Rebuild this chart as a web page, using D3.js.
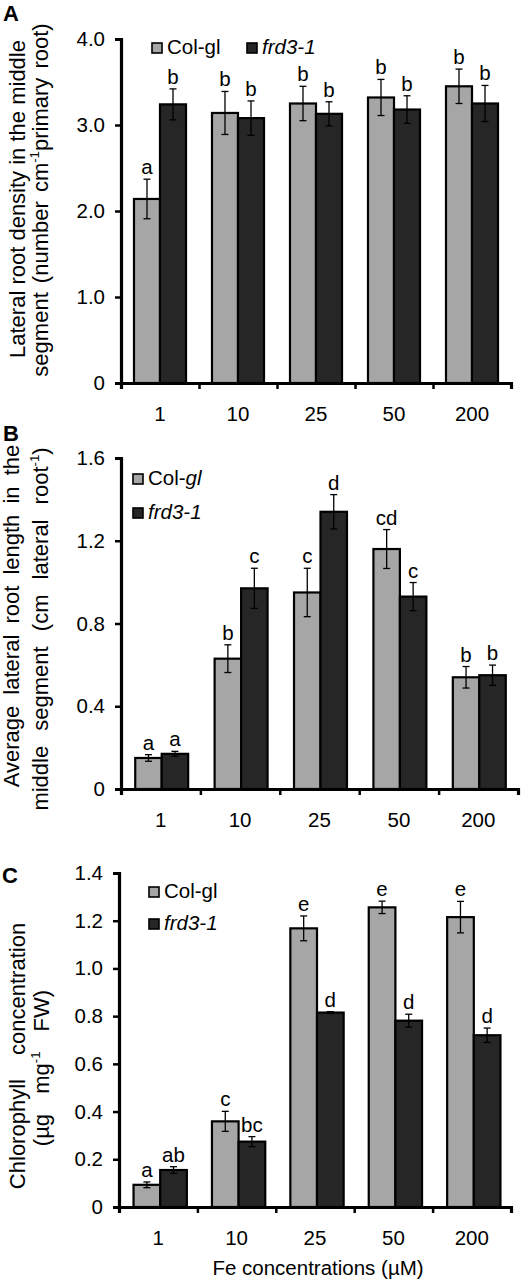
<!DOCTYPE html>
<html>
<head>
<meta charset="utf-8">
<script src="https://cdn.jsdelivr.net/npm/d3@7"></script>
<style>
  html, body { margin: 0; padding: 0; background: #fff; }
  svg { display: block; }
  text { font-family: "Liberation Sans", Arial, sans-serif; fill: #000; }
</style>
</head>
<body>
<svg id="chart" width="531" height="1283"></svg>
<script>
// ---------- data ----------
const categories = ["1", "10", "25", "50", "200"];
const seriesNames = ["Col-gl", "frd3-1"];

// Panel A: lateral root density
const colA = [2.14, 3.14, 3.25, 3.32, 3.45];
const frdA = [3.24, 3.08, 3.13, 3.18, 3.25];
const errColA = [0.23, 0.25, 0.20, 0.21, 0.20];
const errFrdA = [0.18, 0.20, 0.14, 0.16, 0.21];
const lettersColA = ["a", "b", "b", "b", "b"];
const lettersFrdA = ["b", "b", "b", "b", "b"];
const ticksA = [0, 1, 2, 3, 4];
const tickLabelsA = ["0", "1.0", "2.0", "3.0", "4.0"];

// Panel B: average lateral root length
const colB = [0.15, 0.63, 0.95, 1.16, 0.54];
const frdB = [0.17, 0.97, 1.34, 0.93, 0.55];
const errColB = [0.016, 0.067, 0.117, 0.094, 0.052];
const errFrdB = [0.012, 0.097, 0.083, 0.068, 0.049];
const lettersColB = ["a", "b", "c", "cd", "b"];
const lettersFrdB = ["a", "c", "d", "c", "b"];
const ticksB = [0, 0.4, 0.8, 1.2, 1.6];
const tickLabelsB = ["0", "0.4", "0.8", "1.2", "1.6"];

// Panel C: chlorophyll concentration
const colC = [0.093, 0.359, 1.168, 1.256, 1.215];
const frdC = [0.155, 0.274, 0.815, 0.781, 0.720];
const errColC = [0.012, 0.042, 0.052, 0.026, 0.066];
const errFrdC = [0.014, 0.021, 0.004, 0.027, 0.030];
const lettersColC = ["a", "c", "e", "e", "e"];
const lettersFrdC = ["ab", "bc", "d", "d", "d"];
const ticksC = [0, 0.2, 0.4, 0.6, 0.8, 1.0, 1.2, 1.4];
const tickLabelsC = ["0", "0.2", "0.4", "0.6", "0.8", "1.0", "1.2", "1.4"];

const xTitle = "Fe concentrations (µM)";

// ---------- styles ----------
const fills = ["#a6a6a6", "#262626"];
const FONT = 20.5;

const svg = d3.select("#chart");

function drawPanel(cfg) {
  const g = svg.append("g");
  const y = d3.scaleLinear().domain([0, cfg.yMax]).range([cfg.yZero, cfg.yTop]);
  const x = d3.scaleBand().domain(categories).range([cfg.x0, cfg.x1])
    .paddingInner(cfg.pad).paddingOuter(cfg.pad / 2);
  const xs = d3.scaleBand().domain(seriesNames).range([0, x.bandwidth()]);

  const series = [
    { name: seriesNames[0], vals: cfg.col, errs: cfg.errCol, letters: cfg.lettersCol },
    { name: seriesNames[1], vals: cfg.frd, errs: cfg.errFrd, letters: cfg.lettersFrd }
  ];

  series.forEach((s, si) => {
    const sg = g.append("g");
    const recs = categories.map((c, i) => ({ c, v: s.vals[i], e: s.errs[i], l: s.letters[i] }));
    sg.selectAll("rect").data(recs).join("rect")
      .attr("x", d => x(d.c) + xs(s.name) + cfg.shift)
      .attr("y", d => y(d.v))
      .attr("width", xs.bandwidth())
      .attr("height", d => y(0) - y(d.v))
      .attr("fill", fills[si])
      .attr("stroke", "#000")
      .attr("stroke-width", 2.2);
    const cx = d => x(d.c) + xs(s.name) + xs.bandwidth() / 2 + cfg.shift;
    sg.selectAll("line.eb").data(recs).join("line").attr("class", "eb")
      .attr("x1", cx).attr("x2", cx)
      .attr("y1", d => y(d.v - d.e)).attr("y2", d => y(d.v + d.e))
      .attr("stroke", "#000").attr("stroke-width", 1.3);
    sg.selectAll("line.ct").data(recs).join("line").attr("class", "ct")
      .attr("x1", d => cx(d) - 3.5).attr("x2", d => cx(d) + 3.5)
      .attr("y1", d => y(d.v + d.e)).attr("y2", d => y(d.v + d.e))
      .attr("stroke", "#000").attr("stroke-width", 1.3);
    sg.selectAll("line.cb").data(recs).join("line").attr("class", "cb")
      .attr("x1", d => cx(d) - 3.5).attr("x2", d => cx(d) + 3.5)
      .attr("y1", d => y(d.v - d.e)).attr("y2", d => y(d.v - d.e))
      .attr("stroke", "#000").attr("stroke-width", 1.3);
    sg.selectAll("text.lt").data(recs).join("text").attr("class", "lt")
      .attr("x", cx)
      .attr("y", d => y(d.v + d.e) - 5)
      .attr("text-anchor", "middle")
      .attr("font-size", FONT)
      .text(d => d.l);
  });

  // y axis
  const yAxis = d3.axisLeft(y).tickValues(cfg.ticks)
    .tickFormat((d, i) => cfg.tickLabels[i]).tickSizeOuter(0).tickSize(6).tickPadding(10);
  const ya = g.append("g").attr("transform", `translate(${cfg.x0},0)`).call(yAxis);
  ya.select(".domain").attr("stroke-width", 3.2).attr("stroke", "#000");
  ya.selectAll(".tick line").attr("stroke-width", 2.5).attr("stroke", "#000");
  ya.selectAll(".tick text").attr("font-size", FONT)
    .attr("font-family", '"Liberation Sans", Arial, sans-serif').attr("fill", "#000");

  // x axis: ticks at band boundaries
  const xb = d3.scaleLinear().domain([0, categories.length]).range([cfg.x0, cfg.x1]);
  const xAxis = d3.axisBottom(xb).tickValues(d3.range(categories.length + 1))
    .tickFormat("").tickSizeOuter(0).tickSize(6);
  const xa = g.append("g").attr("transform", `translate(0,${cfg.yZero})`).call(xAxis);
  xa.select(".domain").attr("stroke-width", 3.2).attr("stroke", "#000");
  xa.selectAll(".tick line").attr("stroke-width", 2.5).attr("stroke", "#000");
  // category labels
  g.selectAll("text.cat").data(categories).join("text").attr("class", "cat")
    .attr("x", d => (xb(categories.indexOf(d)) + xb(categories.indexOf(d) + 1)) / 2)
    .attr("y", cfg.yZero + 38)
    .attr("text-anchor", "middle")
    .attr("font-size", FONT)
    .text(d => d);

  // panel letter
  g.append("text").attr("x", cfg.letterX).attr("y", cfg.letterY)
    .attr("font-size", 22).attr("font-weight", "bold").text(cfg.letter);

  // y titles
  cfg.titles.forEach(t => {
    const tx = g.append("text")
      .attr("transform", `translate(${t.x},${t.cy}) rotate(-90)`)
      .attr("text-anchor", "middle")
      .attr("font-size", t.size)
      .style("word-spacing", t.ws + "px");
    t.parts.forEach(p => {
      const ts = tx.append("tspan").text(p.t);
      if (p.sup) ts.attr("font-size", t.size * 0.6).attr("dy", -9);
      if (p.after) ts.attr("dy", 9);
      if (p.it) ts.attr("font-style", "italic");
    });
  });

  // legend
  cfg.legend.forEach((L, li) => {
    g.append("rect").attr("x", L.x).attr("y", L.y).attr("width", 10).attr("height", 10)
      .attr("fill", fills[li]).attr("stroke", "#000").attr("stroke-width", 1.6);
    const tt = g.append("text").attr("x", L.x + 15).attr("y", L.y + 11).attr("font-size", FONT);
    L.parts.forEach(p => {
      const ts = tt.append("tspan").text(p.t);
      if (p.it) ts.attr("font-style", "italic");
    });
  });
}

drawPanel({
  col: colA, frd: frdA, errCol: errColA, errFrd: errFrdA,
  lettersCol: lettersColA, lettersFrd: lettersFrdA,
  ticks: ticksA, tickLabels: tickLabelsA,
  yMax: 4, yZero: 383, yTop: 39, x0: 121, x1: 511, pad: 0.333, shift: 0,
  letter: "A", letterX: 3, letterY: 21,
  titles: [
    { x: 25, cy: 199, size: 22, ws: 0, parts: [{ t: "Lateral root density in the middle" }] },
    { x: 48, cy: 200, size: 22, ws: 3, parts: [
      { t: "segment (number cm" }, { t: "-1", sup: true }, { t: "primary root)", after: true }] }
  ],
  legend: [
    { x: 152, y: 43, parts: [{ t: "Col-gl" }] },
    { x: 247, y: 43, parts: [{ t: "frd3-1", it: true }] }
  ]
});

drawPanel({
  col: colB, frd: frdB, errCol: errColB, errFrd: errFrdB,
  lettersCol: lettersColB, lettersFrd: lettersFrdB,
  ticks: ticksB, tickLabels: tickLabelsB,
  yMax: 1.6, yZero: 789, yTop: 458, x0: 121, x1: 518, pad: 0.333, shift: 1,
  letter: "B", letterX: 3, letterY: 441,
  titles: [
    { x: 19, cy: 616, size: 22, ws: 5, parts: [{ t: "Average lateral root length in the" }] },
    { x: 48, cy: 629, size: 22, ws: 9, parts: [
      { t: "middle segment (cm lateral root" }, { t: "-1", sup: true }, { t: ")", after: true }] }
  ],
  legend: [
    { x: 133, y: 474, parts: [{ t: "Col-" }, { t: "gl", it: true }] },
    { x: 133, y: 508, parts: [{ t: "frd3-1", it: true }] }
  ]
});

drawPanel({
  col: colC, frd: frdC, errCol: errColC, errFrd: errFrdC,
  lettersCol: lettersColC, lettersFrd: lettersFrdC,
  ticks: ticksC, tickLabels: tickLabelsC,
  yMax: 1.4, yZero: 1207, yTop: 873, x0: 119, x1: 511, pad: 0.32, shift: 2,
  letter: "C", letterX: 2, letterY: 883,
  titles: [
    { x: 25, cy: 1056, size: 22, ws: 18, parts: [{ t: "Chlorophyll concentration" }] },
    { x: 49, cy: 1068, size: 22, ws: 14, parts: [
      { t: "(µg mg" }, { t: "-1", sup: true }, { t: " FW)", after: true }] }
  ],
  legend: [
    { x: 149, y: 887, parts: [{ t: "Col-gl" }] },
    { x: 149, y: 919, parts: [{ t: "frd3-1", it: true }] }
  ]
});

svg.append("text").attr("x", 318).attr("y", 1275).attr("text-anchor", "middle")
  .attr("font-size", FONT).text(xTitle);
</script>
</body>
</html>
